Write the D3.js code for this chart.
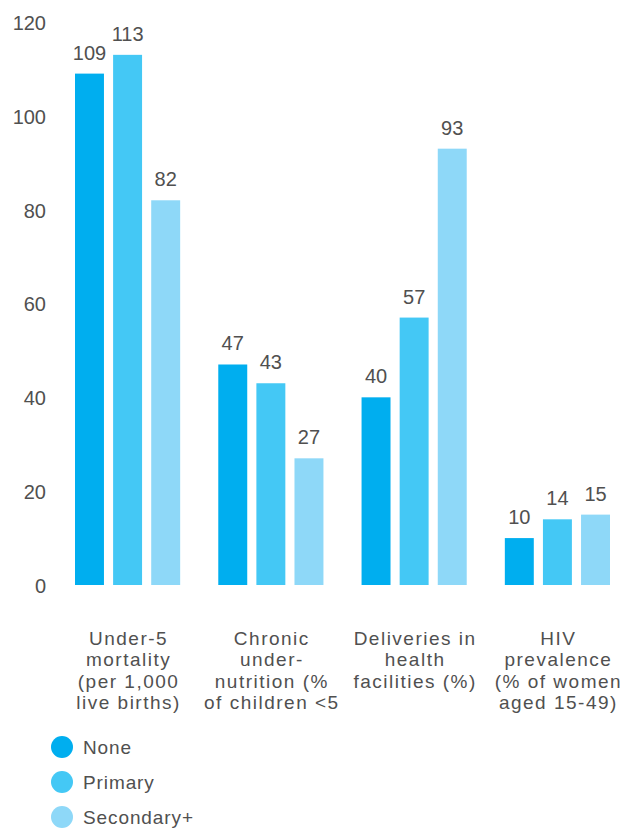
<!DOCTYPE html>
<html>
<head>
<meta charset="utf-8">
<script src="https://cdn.jsdelivr.net/npm/d3@7"></script>
<style>
  html, body { margin: 0; padding: 0; background: #fff; }
  svg { display: block; }
  text { font-family: "Liberation Sans", Arial, sans-serif; fill: #505050; }
</style>
</head>
<body>
<svg id="chart" width="626" height="831"></svg>
<script>
const categories = [
  ["Under-5", "mortality", "(per 1,000", "live births)"],
  ["Chronic", "under-", "nutrition (%", "of children <5"],
  ["Deliveries in", "health", "facilities (%)"],
  ["HIV", "prevalence", "(% of women", "aged 15-49)"]
];
const seriesNames = ["None", "Primary", "Secondary+"];
const noneValues = [109, 47, 40, 10];
const primaryValues = [113, 43, 57, 14];
const secondaryValues = [82, 27, 93, 15];
const yTicks = [0, 20, 40, 60, 80, 100, 120];
const colors = ["#00AEEF", "#44C8F5", "#8ED8F8"];

const series = [noneValues, primaryValues, secondaryValues];
const svg = d3.select("#chart");

const y = d3.scaleLinear().domain([0, 120]).range([585, 22]);
const x0 = d3.scaleBand().domain(d3.range(categories.length)).range([75, 610]).paddingInner(0.266).paddingOuter(0);
const x1 = d3.scaleBand().domain(d3.range(series.length)).range([0, x0.bandwidth()]).paddingInner(0.24).paddingOuter(0);

// y axis labels
const yAxis = d3.axisLeft(y).tickValues(yTicks).tickSize(0).tickPadding(0);
const gy = svg.append("g").attr("transform", "translate(46,1)").call(yAxis);
gy.select(".domain").remove();
gy.selectAll("text").attr("font-size", 20).attr("fill", "#505050")
  .style("font-family", "'Liberation Sans', Arial, sans-serif");

// bars
const groups = svg.append("g").selectAll("g")
  .data(categories.map((c, i) => i))
  .join("g")
  .attr("transform", i => `translate(${x0(i)},0)`);

groups.selectAll("rect")
  .data(i => series.map((s, k) => ({k, v: s[i]})))
  .join("rect")
  .attr("x", d => x1(d.k))
  .attr("width", x1.bandwidth())
  .attr("y", d => y(d.v))
  .attr("height", d => y(0) - y(d.v))
  .attr("fill", d => colors[d.k]);

groups.selectAll("text.val")
  .data(i => series.map((s, k) => ({k, v: s[i]})))
  .join("text")
  .attr("class", "val")
  .attr("x", d => x1(d.k) + x1.bandwidth() / 2)
  .attr("y", d => y(d.v) - 14)
  .attr("text-anchor", "middle")
  .attr("font-size", 20)
  .text(d => d.v);

// x labels
const xl = svg.append("g").selectAll("text")
  .data(categories)
  .join("text")
  .attr("text-anchor", "middle")
  .attr("font-size", 19)
  .attr("letter-spacing", 1.5)
  .attr("x", (c, i) => x0(i) + x0.bandwidth() / 2 + 1)
  .attr("y", 645);
xl.selectAll("tspan")
  .data(d => d)
  .join("tspan")
  .attr("x", function() { return d3.select(this.parentNode).attr("x"); })
  .attr("dy", (d, j) => j === 0 ? 0 : 21.3)
  .text(d => d);

// legend
const lg = svg.append("g").selectAll("g")
  .data(seriesNames)
  .join("g")
  .attr("transform", (d, i) => `translate(0,${747 + i * 35})`);
lg.append("circle").attr("cx", 62).attr("cy", 0).attr("r", 11).attr("fill", (d, i) => colors[i]);
lg.append("text").attr("x", 83).attr("y", 7).attr("font-size", 19).attr("letter-spacing", 0.9).text(d => d);
</script>
</body>
</html>
